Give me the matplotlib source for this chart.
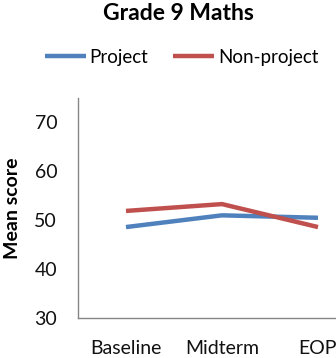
import matplotlib
matplotlib.use('Agg')
import matplotlib.pyplot as plt

# Mean scores by test round
rounds = ['Baseline', 'Midterm', 'EOP']
project = [48.6, 51.0, 50.5]
non_project = [51.9, 53.3, 48.6]
y_ticks = [30, 40, 50, 60, 70]

plt.rcParams['font.family'] = ['Lato', 'DejaVu Sans']

fig = plt.figure(figsize=(3.36, 3.58), dpi=100)
# plot area runs off the right edge of the figure
ax = fig.add_axes([78 / 336, 40 / 358, 288 / 336, 220 / 358])

x = [i + 0.5 for i in range(len(rounds))]
ax.plot(x, project, color='#4F81BD', lw=3.2, label='Project', solid_capstyle='butt')
ax.plot(x, non_project, color='#C0504D', lw=3.2, label='Non-project', solid_capstyle='butt')

ax.set_xlim(0, 3)
ax.set_ylim(30, 75)
ax.set_yticks(y_ticks)
ax.set_xticks(x)
ax.set_xticklabels(rounds)
ax.tick_params(length=0, labelsize=14, colors='#111111')
ax.tick_params(axis='y', pad=15)
ax.tick_params(axis='x', pad=16)
for s in ['top', 'right']:
    ax.spines[s].set_visible(False)
for s in ['left', 'bottom']:
    ax.spines[s].set_color('#868686')
    ax.spines[s].set_linewidth(1)

ax.set_ylabel('Mean score', fontsize=14, fontweight='bold', labelpad=10)
fig.text(0.53, 0.962, 'Grade 9 Maths', ha='center', va='center', fontsize=16.5, fontweight='bold')

fig.legend(loc='center', bbox_to_anchor=(0.54, 0.84), ncol=2, frameon=False,
           fontsize=13.5, handlelength=2.2, handletextpad=0.2, columnspacing=1.3)

fig.savefig('out.png', dpi=100)
